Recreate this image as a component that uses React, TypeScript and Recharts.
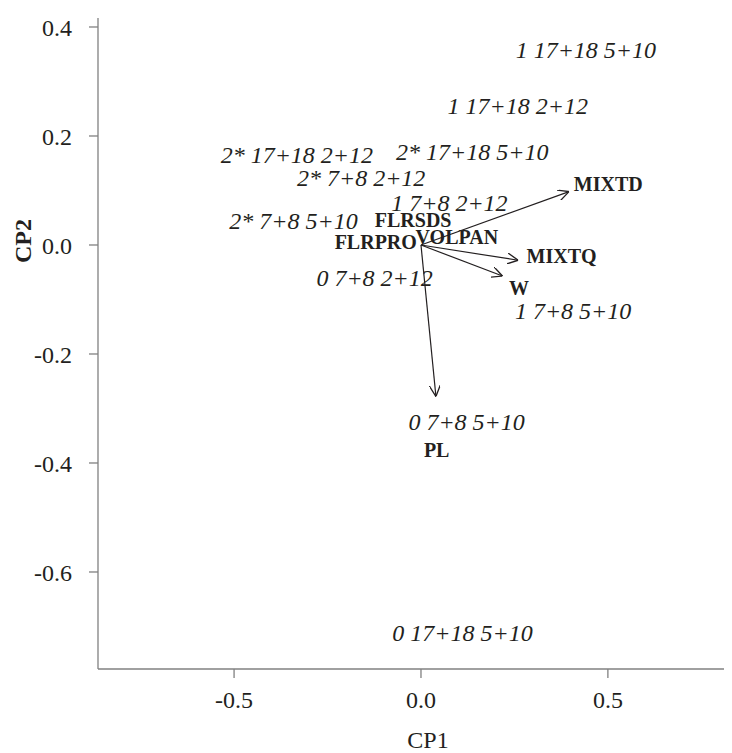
import { ScatterChart, Scatter, XAxis, YAxis, ReferenceLine } from "recharts";

// sample scores (italic labels)
const SAMPLE_LABELS = [
  "1 17+18 5+10",
  "1 17+18 2+12",
  "2* 17+18 5+10",
  "2* 17+18 2+12",
  "2* 7+8 2+12",
  "1 7+8 2+12",
  "2* 7+8 5+10",
  "0 7+8 2+12",
  "1 7+8 5+10",
  "0 7+8 5+10",
  "0 17+18 5+10",
];
const SAMPLE_CP1 = [0.441, 0.259, 0.137, -0.332, -0.16, 0.076, -0.341, -0.124, 0.407, 0.122, 0.111];
const SAMPLE_CP2 = [0.358, 0.256, 0.172, 0.165, 0.123, 0.077, 0.044, -0.059, -0.121, -0.324, -0.711];

// variable loadings (bold labels + arrows)
const VARIABLES = ["MIXTD", "MIXTQ", "W", "PL", "FLRSDS", "VOLPAN", "FLRPRO"];
const VAR_LABEL_CP1 = [0.501, 0.376, 0.262, 0.042, -0.021, 0.096, -0.121];
const VAR_LABEL_CP2 = [0.112, -0.02, -0.078, -0.377, 0.046, 0.014, 0.005];
const ARROW_VARS = ["MIXTD", "MIXTQ", "W", "PL"];
const ARROW_CP1 = [0.396, 0.26, 0.218, 0.04];
const ARROW_CP2 = [0.098, -0.028, -0.057, -0.278];

const X_TICKS = [-0.5, 0, 0.5];
const Y_TICKS = [-0.6, -0.4, -0.2, 0, 0.2, 0.4];

const FONT = '"Liberation Serif", "Times New Roman", serif';
const INK = "#231f20";
const AXIS = "#808080";

const samples = SAMPLE_LABELS.map((label, i) => ({ label, x: SAMPLE_CP1[i], y: SAMPLE_CP2[i] }));
const varLabels = VARIABLES.map((label, i) => ({ label, x: VAR_LABEL_CP1[i], y: VAR_LABEL_CP2[i] }));

function SampleText(props: any) {
  const { cx, cy, payload } = props;
  return (
    <text x={cx} y={cy} dy="0.35em" textAnchor="middle" fontFamily={FONT} fontStyle="italic" fontSize={24} fill={INK}>
      {payload.label}
    </text>
  );
}

function VarText(props: any) {
  const { cx, cy, payload } = props;
  return (
    <text x={cx} y={cy} dy="0.35em" textAnchor="middle" fontFamily={FONT} fontWeight="bold" fontSize={20} fill={INK}>
      {payload.label}
    </text>
  );
}

function XTitle(props: any) {
  const vb = props.viewBox;
  return (
    <text x={vb.x + vb.width / 2 + 13} y={vb.y + vb.height - 5} textAnchor="middle" fontFamily={FONT} fontSize={24} fill={INK}>
      CP1
    </text>
  );
}

function YTitle() {
  return (
    <text
      x={0}
      y={0}
      transform="translate(15, 233) rotate(-90)"
      dy="0.35em"
      textAnchor="middle"
      fontFamily={FONT}
      fontWeight="bold"
      fontSize={24}
      fill={INK}
    >
      CP2
    </text>
  );
}

const fmt = (v: number) => v.toFixed(1);

export default function App() {
  return (
    <div style={{ position: "relative" }}>
      <svg width={0} height={0} style={{ position: "absolute" }}>
        <defs>
          <marker
            id="openArrow"
            viewBox="0 0 10 10"
            refX={10}
            refY={5}
            markerWidth={11}
            markerHeight={11}
            markerUnits="userSpaceOnUse"
            orient="auto"
          >
            <path d="M0,0 L10,5 L0,10" fill="none" stroke={INK} strokeWidth={1.2} />
          </marker>
        </defs>
      </svg>
      <ScatterChart width={724} height={745} margin={{ top: 10, right: 0, bottom: 0, left: 0 }}>
        <XAxis
          type="number"
          dataKey="x"
          domain={[-0.864, 0.832]}
          allowDataOverflow
          ticks={X_TICKS}
          tickFormatter={fmt}
          height={84}
          tickSize={9}
          tickMargin={13}
          stroke={AXIS}
          strokeWidth={1.3}
          tick={{ fill: INK, fontFamily: FONT, fontSize: 24 }}
          label={<XTitle />}
        />
        <YAxis
          type="number"
          dataKey="y"
          domain={[-0.778, 0.4165]}
          allowDataOverflow
          ticks={Y_TICKS}
          tickFormatter={fmt}
          width={90}
          tickSize={9}
          tickMargin={17}
          stroke={AXIS}
          strokeWidth={1.3}
          tick={{ fill: INK, fontFamily: FONT, fontSize: 24 }}
          label={<YTitle />}
        />
        {ARROW_VARS.map((name, i) => (
          <ReferenceLine
            key={name}
            segment={[
              { x: 0, y: 0 },
              { x: ARROW_CP1[i], y: ARROW_CP2[i] },
            ]}
            stroke={INK}
            strokeWidth={1.2}
            markerEnd="url(#openArrow)"
          />
        ))}
        <Scatter data={samples} shape={<SampleText />} isAnimationActive={false} />
        <Scatter data={varLabels} shape={<VarText />} isAnimationActive={false} />
      </ScatterChart>
    </div>
  );
}
